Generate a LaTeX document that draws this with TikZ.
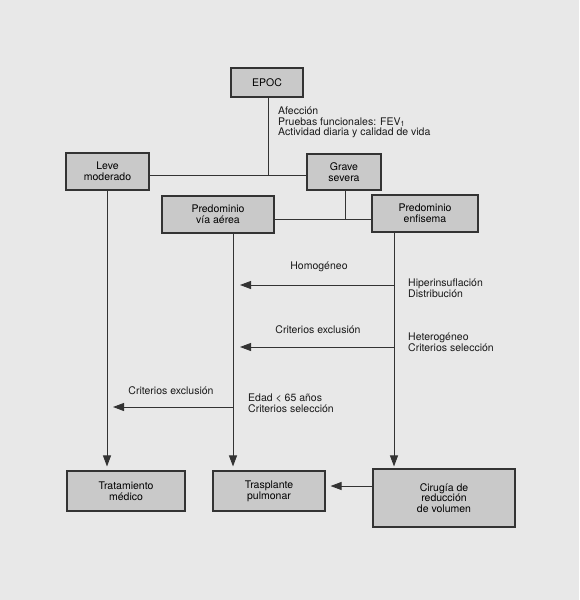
\documentclass[tikz,border=0pt]{standalone}
\usepackage{fontspec}
\setmainfont{TeX Gyre Heros}
\usetikzlibrary{arrows.meta}
\definecolor{bg}{HTML}{E8E8E8}
\definecolor{boxfill}{HTML}{C9C9C9}
\definecolor{linec}{HTML}{333333}
\tikzset{
  box/.style={draw=linec, line width=1.1pt, fill=boxfill, align=center, inner sep=1pt,
    font=\fontsize{10.5}{10.8}\selectfont},
  conn/.style={draw=linec, line width=0.9pt},
  arr/.style={conn, -{Triangle[length=11pt,width=8pt]}},
  lbl/.style={align=left, inner sep=0pt, font=\fontsize{10.5}{10.5}\selectfont, text=black!90},
}
\begin{document}
\begin{tikzpicture}[x=1pt,y=-1pt]
\fill[bg] (0,0) rectangle (579,600);
\useasboundingbox (0,0) rectangle (579,600);

\node[box, minimum width=72pt, minimum height=29pt] (epoc) at (267,82.5) {EPOC};
\node[box, minimum width=83pt, minimum height=37pt] (leve) at (107.5,171.5) {Leve\\moderado};
\node[box, minimum width=74pt, minimum height=36pt] (grave) at (344,172) {Grave\\severa};
\node[box, minimum width=112pt, minimum height=37pt] (via) at (218,214.5) {Predominio\\vía aérea};
\node[box, minimum width=106pt, minimum height=37pt] (enf) at (425,213.5) {Predominio\\enfisema};
\node[box, minimum width=118pt, minimum height=40pt] (trat) at (126,491) {Tratamiento\\médico};
\node[box, minimum width=112pt, minimum height=40pt] (trasp) at (269,491) {Trasplante\\pulmonar};
\node[box, minimum width=142pt, minimum height=58pt] (cir) at (444,498) {Cirugía de\\reducción\\de volumen};

\coordinate (j1) at (268,175);
\coordinate (j2) at (345,219);
\coordinate (xl) at (107,0);
\coordinate (xv) at (233,0);
\coordinate (xe) at (394,0);
\coordinate (h1) at (0,285);
\coordinate (h2) at (0,347);
\coordinate (h3) at (0,407);
\coordinate (h4) at (0,486);

\draw[conn] (epoc.south -| j1) -- (j1);
\draw[conn] (j1 -| leve.east) -- (j1 -| grave.west);
\draw[conn] (grave.south -| j2) -- (j2);
\draw[conn] (j2 -| via.east) -- (j2 -| enf.west);

\draw[arr] (leve.south -| xl) -- ([yshift=4pt]trat.north -| xl);
\draw[arr] (via.south -| xv) -- ([yshift=4pt]trasp.north -| xv);
\draw[arr] (enf.south -| xe) -- ([yshift=2pt]cir.north -| xe);

\draw[arr] (h1 -| xe) -- ([xshift=7pt]h1 -| xv);
\draw[arr] (h2 -| xe) -- ([xshift=7pt]h2 -| xv);
\draw[arr] (h3 -| xv) -- ([xshift=6pt]h3 -| xl);
\draw[arr] (h4 -| cir.west) -- ([xshift=5pt]h4 -| trasp.east);

\node[lbl, anchor=west] (t1) at (278,122.5) {Afección\\Pruebas funcionales: FEV\textsubscript{1}\\Actividad diaria y calidad de vida};
\node[lbl] (t2) at (319,267) {Homogéneo};
\node[lbl, anchor=west] (t3) at (408,288) {Hiperinsuflación\\Distribución};
\node[lbl] (t4) at (318,330) {Criterios exclusión};
\node[lbl, anchor=west] (t5) at (408,342.5) {Heterogéneo\\Criterios selección};
\node[lbl] (t6) at (171,391) {Criterios exclusión};
\node[lbl, anchor=west] (t7) at (248,403.5) {Edad < 65 años\\Criterios selección};
\end{tikzpicture}
\end{document}
